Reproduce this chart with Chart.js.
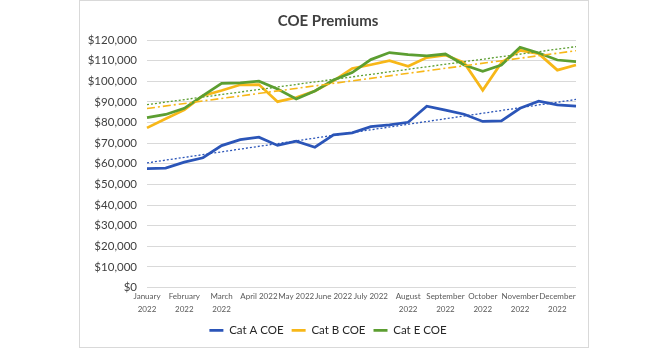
<!DOCTYPE html>
<html>
<head>
<meta charset="utf-8">
<script src="https://cdn.jsdelivr.net/npm/chart.js@4"></script>
<style>
  body { margin: 0; background: #fff; }
  #box {
    position: absolute; left: 79px; top: 0;
    width: 510px; height: 348px;
    border: 1px solid #d9d9d9; box-sizing: border-box;
  }
</style>
</head>
<body>
<div id="box"><canvas id="coeChart" width="508" height="346" style="width:508px;height:346px"></canvas></div>
<script>
// two bidding rounds per month, labels only on the first round
const labels = [
  ["January", "2022"], "", ["February", "2022"], "", ["March", "2022"], "",
  "April 2022", "", "May 2022", "", "June 2022", "", "July 2022", "",
  ["August", "2022"], "", ["September", "2022"], "", ["October", "2022"], "",
  ["November", "2022"], "", ["December", "2022"], "",
];
const catA = [57600, 57900, 60800, 62900, 68800, 71700, 72900, 68900, 70900, 68000, 74000, 75000,
  78000, 78800, 80100, 87900, 86000, 84000, 80500, 80800, 86900, 90300, 88500, 87900];
const catB = [77400, 81800, 86100, 93000, 95500, 98300, 98400, 90100, 92100, 95300, 100200, 106200,
  108000, 110000, 107300, 111500, 112700, 109000, 95600, 109000, 115000, 113400, 105400, 107900];
const catE = [82400, 83900, 86900, 93000, 99000, 99200, 100000, 96200, 91400, 95300, 100600, 104200,
  110500, 113900, 112900, 112300, 113200, 107900, 104800, 107900, 116500, 113700, 110300, 109500];

const blue = "#2B55B8";
const gold = "#F7B718";
const green = "#5C9E31";

// least squares trendline, only the two end points are kept
const trend = (values) => {
  const n = values.length;
  let sx = 0, sy = 0, sxy = 0, sxx = 0;
  values.forEach((v, i) => { sx += i; sy += v; sxy += i * v; sxx += i * i; });
  const slope = (n * sxy - sx * sy) / (n * sxx - sx * sx);
  const icpt = (sy - slope * sx) / n;
  return values.map((v, i) => (i === 0 || i === n - 1 ? icpt + slope * i : null));
};

const font = "Lato";
const ctx = document.getElementById("coeChart");

const chart = new Chart(ctx, {
  type: "line",
  data: {
    labels: labels,
    datasets: [
      { label: "Cat A COE", data: catA, borderColor: blue, backgroundColor: blue, borderWidth: 2.75, pointRadius: 0, tension: 0, order: 3 },
      { label: "Cat B COE", data: catB, borderColor: gold, backgroundColor: gold, borderWidth: 2.75, pointRadius: 0, tension: 0, order: 2 },
      { label: "Cat E COE", data: catE, borderColor: green, backgroundColor: green, borderWidth: 2.75, pointRadius: 0, tension: 0, order: 1 },
      { label: "", data: trend(catA), borderColor: blue, borderWidth: 1.3, borderDash: [2, 2], pointRadius: 0, spanGaps: true, order: 0 },
      { label: "", data: trend(catB), borderColor: gold, borderWidth: 1.6, borderDash: [8, 3, 2, 3], pointRadius: 0, spanGaps: true, order: 0 },
      { label: "", data: trend(catE), borderColor: green, borderWidth: 1.3, borderDash: [2, 2], pointRadius: 0, spanGaps: true, order: 0 },
    ],
  },
  options: {
    responsive: false,
    animation: false,
    layout: { padding: { left: 0, right: 12, top: 0, bottom: 1 } },
    plugins: {
      title: {
        display: true,
        text: "COE Premiums",
        color: "#404040",
        font: { family: font, size: 15, weight: "bold" },
        padding: { top: 11, bottom: 10 },
      },
      legend: {
        position: "bottom",
        labels: {
          filter: (item) => item.text !== "",
          sort: (a, b) => a.datasetIndex - b.datasetIndex,
          usePointStyle: true,
          pointStyle: "line",
          pointStyleWidth: 14,
          color: "#262626",
          font: { family: font, size: 11.5 },
          padding: 8,
        },
      },
      tooltip: { enabled: false },
    },
    scales: {
      x: {
        grid: { display: false },
        border: { display: false },
        ticks: {
          autoSkip: false,
          maxRotation: 0,
          color: "#595959",
          font: { family: font, size: 8, lineHeight: 1.55 },
          padding: -5,
        },
        afterFit: (s) => { s.height = 29; },
      },
      y: {
        min: 0,
        max: 120000,
        grid: { color: "#d9d9d9", drawTicks: false },
        border: { display: false },
        ticks: {
          stepSize: 10000,
          color: "#404040",
          font: { family: font, size: 11.5 },
          padding: 10,
          callback: (v) => "$" + v.toLocaleString("en-US"),
        },
        afterFit: (s) => { s.width = 67; },
      },
    },
  },
});
</script>
</body>
</html>
